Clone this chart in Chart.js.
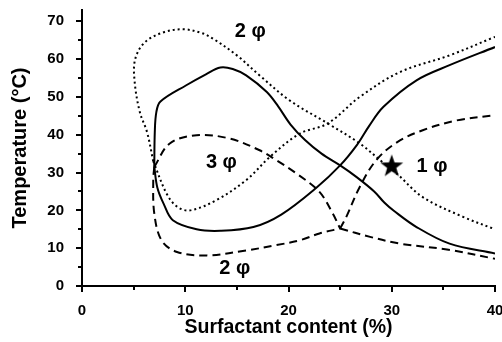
<!DOCTYPE html>
<html lang="en">
<head>
<meta charset="UTF-8">
<title>Phase diagram</title>
<style>
  html, body { margin: 0; padding: 0; background: #fff; }
</style>
<script src="https://cdn.jsdelivr.net/npm/chart.js"></script>
</head>
<body>
<canvas id="phaseChart" width="502" height="342"></canvas>
<script>
// solid boundary: branch over the top, branch along the bottom
const solidUpperX = [7.0, 7.05, 7.2, 7.6, 10.1, 12.0, 13.4, 14.6, 15.9, 17.9, 19.0, 20.2, 21.6, 23.2, 25.0, 26.6, 28.3, 29.3, 30.2, 32.4, 35.6, 40.0];
const solidUpperY = [31.5, 40.7, 46.0, 48.8, 53.1, 56.0, 57.8, 57.4, 55.7, 51.3, 47.5, 42.7, 38.6, 35.0, 31.9, 28.8, 25.0, 22.0, 19.9, 15.6, 11.2, 8.6];
const solidLowerX = [7.0, 7.3, 7.9, 8.8, 11.1, 13.4, 16.6, 19.3, 22.7, 25.0, 26.6, 27.8, 29.2, 32.4, 35.6, 40.0];
const solidLowerY = [31.5, 26.0, 21.8, 17.4, 15.0, 14.6, 15.6, 18.9, 26.0, 31.9, 37.2, 42.3, 47.4, 54.4, 58.4, 63.2];

// dotted boundary
const dottedUpperX = [6.9, 6.3, 5.6, 5.1, 5.15, 6.1, 8.0, 9.8, 11.5, 12.7, 15.0, 17.2, 20.1, 23.8, 26.9, 29.0, 30.5, 33.0, 36.9, 40.0];
const dottedUpperY = [33.0, 40.7, 46.0, 54.0, 60.0, 64.5, 67.2, 67.9, 67.0, 65.4, 61.0, 55.7, 49.1, 43.0, 37.7, 33.0, 29.7, 23.5, 18.3, 15.0];
const dottedLowerX = [6.9, 8.2, 9.2, 10.45, 13.0, 15.9, 18.3, 21.1, 23.8, 26.9, 30.8, 35.6, 40.0];
const dottedLowerY = [33.0, 24.4, 21.0, 20.0, 22.7, 28.0, 34.4, 40.3, 43.0, 50.0, 56.6, 61.0, 65.9];

// dashed boundary: four branches meeting near (25, 15)
const dashedArcX = [7.0, 8.5, 11.1, 14.3, 17.2, 18.8, 20.8, 23.0, 24.3, 25.0];
const dashedArcY = [31.5, 37.7, 39.9, 39.0, 35.9, 33.3, 29.7, 24.9, 19.1, 15.2];
const dashedFloorX = [7.0, 6.9, 7.0, 7.7, 9.2, 12.1, 15.9, 18.8, 21.1, 23.0, 25.0];
const dashedFloorY = [31.5, 28.0, 19.2, 12.1, 9.0, 8.1, 9.4, 10.8, 12.1, 13.9, 15.2];
const dashedRiseX = [25.0, 25.6, 26.9, 28.5, 30.5, 33.0, 36.3, 40.0];
const dashedRiseY = [15.2, 18.3, 26.2, 33.3, 38.0, 41.2, 43.8, 45.2];
const dashedTailX = [25.0, 27.9, 30.8, 35.5, 40.0];
const dashedTailY = [15.2, 13.0, 11.2, 9.6, 7.2];

// star marker
const starX = [30.0];
const starY = [31.9];

// phase region labels
const phaseText = ['2 φ', '3 φ', '1 φ', '2 φ'];
const phaseX = [16.3, 13.5, 33.9, 14.8];
const phaseY = [67.2, 32.8, 31.5, 4.6];

const xTicks = [0, 10, 20, 30, 40];
const yTicks = [0, 10, 20, 30, 40, 50, 60, 70];

const FONT = "'Liberation Sans', Arial, sans-serif";

function toPoints(xs, ys) {
    return xs.map((x, i) => ({ x: x, y: ys[i] }));
}

function boundary(xs, ys, dash) {
    return {
        data: toPoints(xs, ys),
        showLine: true,
        borderColor: '#000',
        borderWidth: 2,
        borderDash: dash,
        borderCapStyle: 'butt',
        pointRadius: 0,
        tension: 0.35,
        fill: false
    };
}

// filled five point star for the marker
function makeStar(size) {
    const c = document.createElement('canvas');
    c.width = size; c.height = size;
    const g = c.getContext('2d');
    const r = size / 2, ri = r * 0.4;
    g.beginPath();
    for (let i = 0; i < 10; i++) {
        const a = -Math.PI / 2 + i * Math.PI / 5;
        const rr = i % 2 ? ri : r;
        g.lineTo(r + rr * Math.cos(a), r + 1 + rr * Math.sin(a));
    }
    g.closePath();
    g.fillStyle = '#000';
    g.fill();
    return c;
}

const decor = {
    id: 'decor',
    afterDraw(chart) {
        const ctx = chart.ctx;
        const xs = chart.scales.x, ys = chart.scales.y;
        const area = chart.chartArea;
        ctx.save();
        ctx.strokeStyle = '#000';
        ctx.lineWidth = 2;
        ctx.beginPath();
        for (let v = 0; v <= 40; v += 5) {
            const px = Math.round(xs.getPixelForValue(v));
            const len = v % 10 === 0 ? 6 : 4;
            ctx.moveTo(px, area.bottom);
            ctx.lineTo(px, area.bottom + len);
        }
        for (let v = 0; v <= 70; v += 5) {
            const py = Math.round(ys.getPixelForValue(v));
            const len = v % 10 === 0 ? 6 : 4;
            ctx.moveTo(area.left, py);
            ctx.lineTo(area.left - len, py);
        }
        ctx.stroke();

        ctx.fillStyle = '#000';
        ctx.font = 'bold 20px ' + FONT;
        ctx.textAlign = 'center';
        ctx.textBaseline = 'middle';
        phaseText.forEach((t, i) => {
            ctx.fillText(t, xs.getPixelForValue(phaseX[i]), ys.getPixelForValue(phaseY[i]));
        });
        ctx.restore();
    }
};

new Chart(document.getElementById('phaseChart'), {
    type: 'scatter',
    data: {
        datasets: [
            boundary(solidUpperX, solidUpperY, []),
            boundary(solidLowerX, solidLowerY, []),
            boundary(dottedUpperX, dottedUpperY, [2, 3]),
            boundary(dottedLowerX, dottedLowerY, [2, 3]),
            boundary(dashedArcX, dashedArcY, [8, 5]),
            boundary(dashedFloorX, dashedFloorY, [8, 5]),
            boundary(dashedRiseX, dashedRiseY, [8, 5]),
            boundary(dashedTailX, dashedTailY, [8, 5]),
            {
                data: toPoints(starX, starY),
                pointStyle: makeStar(24),
                pointRadius: 12,
                showLine: false
            }
        ]
    },
    options: {
        responsive: false,
        animation: false,
        layout: { autoPadding: false, padding: { top: 10, right: 7, bottom: 0, left: 0 } },
        plugins: { legend: { display: false }, tooltip: { enabled: false } },
        scales: {
            x: {
                type: 'linear',
                min: 0,
                max: 40,
                afterBuildTicks: s => { s.ticks = xTicks.map(v => ({ value: v })); },
                afterFit: s => { s.height = 56; s.paddingLeft = 0; s.paddingRight = 0; },
                grid: { display: false },
                border: { display: true, color: '#000', width: 2 },
                ticks: { color: '#000', padding: 8, maxRotation: 0, font: { family: FONT, size: 15, weight: 'bold' } },
                title: {
                    display: true,
                    text: 'Surfactant content (%)',
                    color: '#000',
                    padding: { top: 0, bottom: 3 },
                    font: { family: FONT, size: 19.5, weight: 'bold' }
                }
            },
            y: {
                type: 'linear',
                min: 0,
                max: 73,
                afterBuildTicks: s => { s.ticks = yTicks.map(v => ({ value: v })); },
                afterFit: s => { s.width = 82; s.paddingTop = 0; s.paddingBottom = 0; },
                grid: { display: false },
                border: { display: true, color: '#000', width: 2 },
                ticks: { color: '#000', padding: 10, font: { family: FONT, size: 15, weight: 'bold' } },
                title: {
                    display: true,
                    text: 'Temperature (°C)',
                    color: '#000',
                    padding: { top: 8, bottom: 0 },
                    font: { family: FONT, size: 20, weight: 'bold' }
                }
            }
        }
    },
    plugins: [decor]
});
</script>
</body>
</html>
